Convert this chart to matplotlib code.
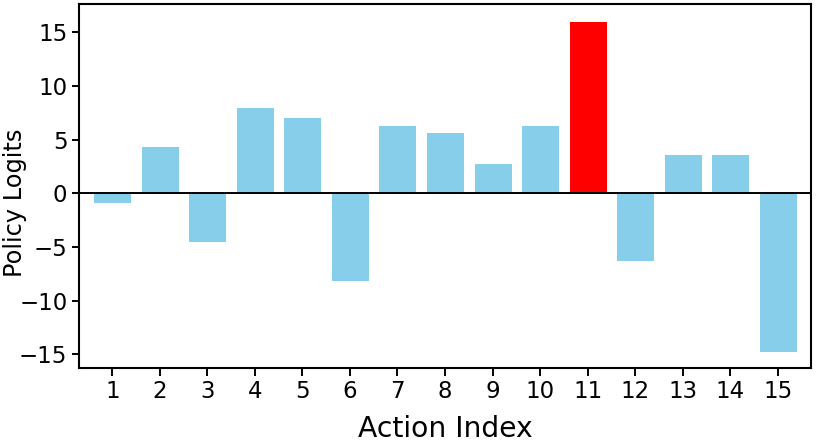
import matplotlib
matplotlib.use("Agg")
import matplotlib.pyplot as plt

actions = list(range(1, 16))
logits = [-0.87, 4.38, -4.57, 8.01, 7.14, -8.17, 6.40, 5.68, 2.79, 6.33, 16.09, -6.31, 3.69, 3.69, -14.76]
highlight = 11
colors = ['red' if a == highlight else 'skyblue' for a in actions]

fig, ax = plt.subplots(figsize=(8.19, 4.44), dpi=100)
fig.subplots_adjust(left=79/819, right=811/819, top=1-4/444, bottom=1-368.3/444)
ax.bar(actions, logits, color=colors, edgecolor='white', linewidth=0.7)
ax.axhline(0, color='black', linewidth=1.4)
for s in ax.spines.values():
    s.set_linewidth(1.5)
ax.set_xticks(actions)
ax.set_xlim(0.3, 15.7)
ax.tick_params(labelsize=16.5, length=5.4, width=1.4, pad=3)
ax.set_xlabel('Action Index', fontsize=20.3, labelpad=8.5)
ax.set_ylabel('Policy Logits', fontsize=17.3)
ax.yaxis.set_label_coords(-0.071, 0.454)
ax.set_yticks([-15, -10, -5, 0, 5, 10, 15])
fig.savefig('out.png', dpi=100)
